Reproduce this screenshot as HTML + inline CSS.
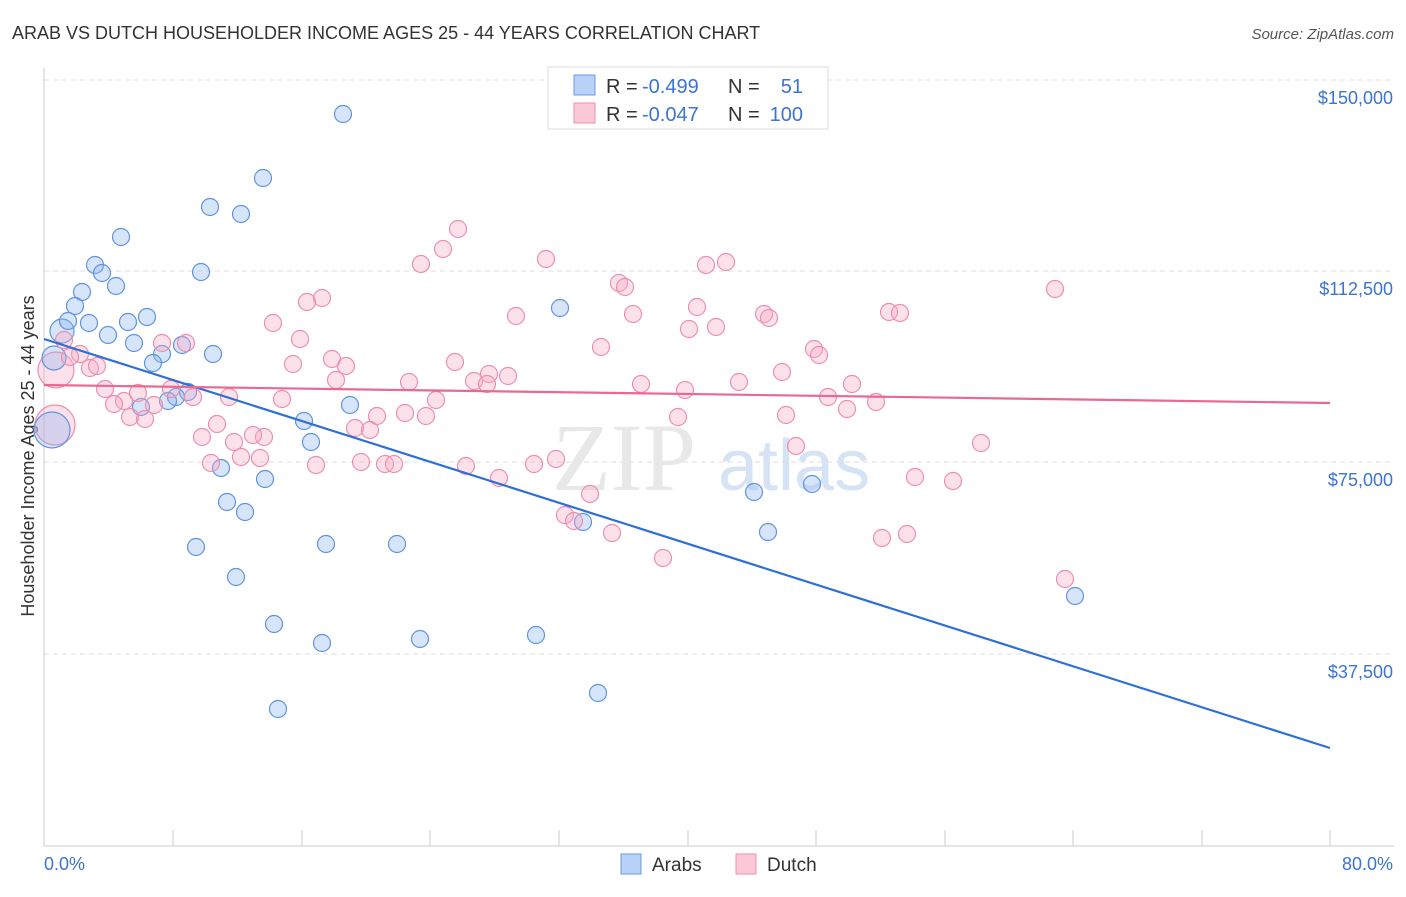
<!DOCTYPE html>
<html><head><meta charset="utf-8"><style>
body{margin:0;background:#fff;font-family:"Liberation Sans",sans-serif;}
</style></head><body>
<svg width="1406" height="892" xmlns="http://www.w3.org/2000/svg" font-family="Liberation Sans, sans-serif">
<text x="12" y="39" font-size="18" fill="#333">ARAB VS DUTCH HOUSEHOLDER INCOME AGES 25 - 44 YEARS CORRELATION CHART</text>
<text x="1394" y="39" font-size="15" fill="#555" text-anchor="end" font-style="italic">Source: ZipAtlas.com</text>
<g stroke="#ddd" stroke-dasharray="5,4" stroke-width="1">
<line x1="44" y1="80" x2="1394" y2="80"/><line x1="44" y1="271" x2="1394" y2="271"/>
<line x1="44" y1="462" x2="1394" y2="462"/><line x1="44" y1="654" x2="1394" y2="654"/>
</g>
<line x1="44" y1="68" x2="44" y2="846" stroke="#ccc"/>
<line x1="44" y1="846" x2="1394" y2="846" stroke="#ccc"/>
<g stroke="#ccc">
<line x1="173" y1="830" x2="173" y2="846"/><line x1="302" y1="830" x2="302" y2="846"/><line x1="430" y1="830" x2="430" y2="846"/><line x1="559" y1="830" x2="559" y2="846"/><line x1="688" y1="830" x2="688" y2="846"/><line x1="816" y1="830" x2="816" y2="846"/><line x1="945" y1="830" x2="945" y2="846"/><line x1="1073" y1="830" x2="1073" y2="846"/><line x1="1202" y1="830" x2="1202" y2="846"/><line x1="1330" y1="830" x2="1330" y2="846"/>
</g>
<g font-size="18" fill="#3b74d4" text-anchor="end">
<text x="1393" y="104">$150,000</text><text x="1393" y="295">$112,500</text><text x="1393" y="486">$75,000</text><text x="1393" y="678">$37,500</text>
</g>
<text x="44" y="870" font-size="18" fill="#3b74d4">0.0%</text>
<text x="1393" y="870" font-size="18" fill="#3b74d4" text-anchor="end">80.0%</text>
<text transform="translate(34,456) rotate(-90)" font-size="18" fill="#333" text-anchor="middle">Householder Income Ages 25 - 44 years</text>
<text x="552" y="490" font-size="96" fill="#e8e8e8" font-family="Liberation Serif, serif">ZIP</text>
<text x="718" y="490" font-size="72" fill="#d6e3f5">atlas</text>
<g fill="rgba(248,170,195,0.35)" stroke="#ec8fae" stroke-width="1.2">
<circle cx="55" cy="425" r="20"/><circle cx="56" cy="370" r="18"/>
</g>
<g fill="rgba(140,180,240,0.35)" stroke="#5f93e0" stroke-width="1.2">
<circle cx="52" cy="430" r="18"/><circle cx="62" cy="331" r="12"/><circle cx="54" cy="358" r="12"/>
</g>
<g id="bl" fill="rgba(140,180,240,0.35)" stroke="#5f93e0" stroke-width="1.2"></g>
<g id="pl" fill="rgba(248,170,195,0.35)" stroke="#ec8fae" stroke-width="1.2"></g>
<line x1="44" y1="339" x2="1330" y2="748" stroke="#2f6fd8" stroke-width="2.2"/>
<line x1="44" y1="385" x2="1330" y2="403" stroke="#e86a93" stroke-width="2.2"/>
<rect x="548" y="67" width="280" height="62" fill="#fff" stroke="#ddd"/>
<rect x="574" y="75" width="21" height="20" fill="#b8d2f7" stroke="#6a9be3"/>
<rect x="574" y="103" width="21" height="20" fill="#fbc8d8" stroke="#ec8fae"/>
<g font-size="20"><text x="606" y="93" fill="#333">R = </text><text x="642" y="93" fill="#3b74d4">-0.499</text><text x="728" y="93" fill="#333">N =</text><text x="803" y="93" fill="#3b74d4" text-anchor="end">51</text>
<text x="606" y="121" fill="#333">R = </text><text x="642" y="121" fill="#3b74d4">-0.047</text><text x="728" y="121" fill="#333">N =</text><text x="803" y="121" fill="#3b74d4" text-anchor="end">100</text></g>
<rect x="621" y="854" width="20" height="20" fill="#b8d2f7" stroke="#6a9be3"/><text x="652" y="871" font-size="19" fill="#333">Arabs</text>
<rect x="736" y="854" width="20" height="20" fill="#fbc8d8" stroke="#ec8fae"/><text x="767" y="871" font-size="19" fill="#333">Dutch</text>
<script>
var B=[[343,114],[263,178],[210,207],[241,214],[121,237],[95,265],[201,272],[102,273],[116,286],[82,292],[75,306],[68,321],[89,323],[128,322],[147,317],[560,308],[108,335],[134,343],[182,345],[213,354],[162,354],[153,363],[188,392],[176,397],[168,401],[141,407],[350,405],[304,421],[311,442],[221,468],[265,479],[754,492],[812,484],[227,502],[245,512],[583,522],[768,532],[196,547],[326,544],[397,544],[236,577],[1075,596],[274,624],[322,643],[420,639],[536,635],[598,693],[278,709]];
var P=[[458,229],[443,249],[546,259],[421,264],[706,265],[726,262],[619,283],[625,287],[1055,289],[322,298],[307,302],[516,316],[697,307],[633,314],[764,314],[769,318],[889,312],[900,313],[273,323],[689,329],[716,327],[300,339],[601,347],[64,340],[162,343],[186,343],[814,349],[819,355],[80,354],[70,357],[332,359],[293,364],[346,366],[455,362],[489,374],[508,376],[90,368],[97,366],[782,372],[474,381],[487,384],[336,380],[409,382],[641,384],[739,382],[852,384],[105,389],[138,393],[124,401],[114,404],[154,405],[685,390],[828,397],[876,402],[847,409],[171,389],[193,397],[229,397],[282,399],[436,400],[130,417],[145,419],[405,413],[377,416],[426,416],[786,415],[678,417],[217,424],[202,437],[234,442],[264,437],[253,435],[355,428],[370,430],[796,446],[981,443],[211,463],[241,457],[260,458],[316,465],[361,462],[385,464],[394,464],[466,466],[534,464],[556,459],[499,478],[915,477],[953,481],[590,494],[565,515],[574,521],[612,533],[882,538],[907,534],[663,558],[1065,579]];
var ns="http://www.w3.org/2000/svg";
function add(id,a){var g=document.getElementById(id);a.forEach(function(p){var c=document.createElementNS(ns,"circle");c.setAttribute("cx",p[0]);c.setAttribute("cy",p[1]);c.setAttribute("r",8.5);g.appendChild(c);});}
add("pl",P);add("bl",B);
</script>
</svg>
</body></html>
